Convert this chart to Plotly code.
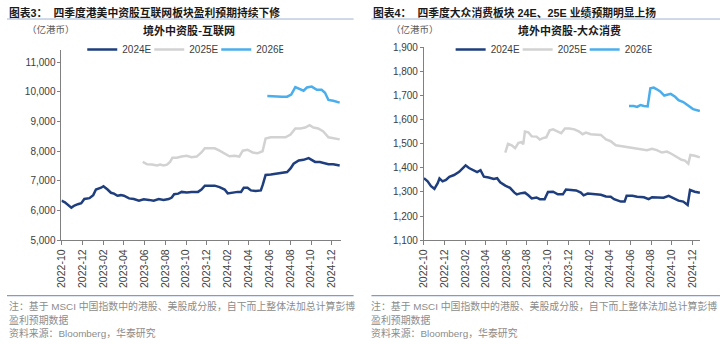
import plotly.graph_objects as go

W, H = 720, 344

# ---------------- data: left chart (互联网) ----------------
L24_dates = ["2022-10-01","2022-10-11","2022-10-30","2022-11-08","2022-11-18","2022-11-28","2022-12-07","2022-12-22",
             "2023-01-02","2023-01-10","2023-01-25","2023-02-01","2023-02-13","2023-02-23","2023-03-04","2023-03-14",
             "2023-03-24","2023-04-02","2023-04-17","2023-05-01","2023-05-16","2023-05-30","2023-06-14","2023-06-28",
             "2023-07-13","2023-07-27","2023-08-11","2023-08-20","2023-08-27","2023-09-08","2023-09-18","2023-10-03",
             "2023-10-17","2023-11-05","2023-11-15","2023-11-25","2023-12-09","2023-12-24","2024-01-07","2024-01-22",
             "2024-01-31","2024-02-15","2024-02-29","2024-03-10","2024-03-18","2024-03-29","2024-04-08","2024-04-22",
             "2024-05-07","2024-05-13","2024-05-21","2024-06-05","2024-06-24","2024-07-08","2024-07-23","2024-08-02",
             "2024-08-11","2024-08-26","2024-09-09","2024-09-24","2024-10-03","2024-10-13","2024-10-27","2024-11-11",
             "2024-11-21","2024-12-05","2024-12-15","2024-12-24"]
L24_vals = [6334,6280,6100,6170,6215,6250,6390,6420,6520,6710,6770,6820,6710,6600,6570,6500,
            6520,6500,6410,6390,6330,6380,6360,6330,6390,6360,6390,6440,6550,6570,6630,6610,
            6630,6630,6710,6840,6840,6840,6790,6710,6580,6610,6630,6630,6770,6770,6680,6660,
            6680,6880,7200,7220,7260,7280,7300,7420,7580,7690,7710,7770,7710,7640,7640,7600,
            7560,7560,7550,7520]

L25_dates = ["2023-05-27","2023-06-09","2023-06-23","2023-07-08","2023-07-17","2023-07-27","2023-08-06","2023-08-15",
             "2023-08-22","2023-09-04","2023-09-18","2023-10-03","2023-10-17","2023-11-01","2023-11-15","2023-11-25",
             "2023-12-09","2023-12-24","2024-01-07","2024-01-22","2024-02-05","2024-02-20","2024-03-05","2024-03-15",
             "2024-03-29","2024-04-13","2024-04-27","2024-05-12","2024-05-21","2024-06-05","2024-06-19","2024-07-04",
             "2024-07-18","2024-08-02","2024-08-16","2024-08-31","2024-09-14","2024-09-27","2024-10-08","2024-10-22",
             "2024-11-06","2024-11-21","2024-12-05","2024-12-24"]
L25_vals = [7640,7560,7550,7520,7550,7520,7550,7640,7780,7780,7820,7850,7800,7820,7960,8100,
            8100,8100,8020,7910,7830,7850,7820,8020,8050,7960,7930,8000,8430,8470,8470,8450,
            8470,8560,8770,8770,8800,8880,8800,8770,8670,8470,8450,8400]

L26_dates = ["2024-05-26","2024-06-10","2024-06-24","2024-07-08","2024-07-23","2024-08-04","2024-08-16","2024-08-31",
             "2024-09-09","2024-09-19","2024-10-03","2024-10-18","2024-11-01","2024-11-11","2024-11-21","2024-12-05",
             "2024-12-24"]
L26_vals = [9860,9850,9830,9840,9840,9910,10160,10070,10040,10150,10180,10070,10070,9970,9730,9700,9640]

# ---------------- data: right chart (大众消费) ----------------
R24_dates = ["2022-10-01","2022-10-12","2022-10-22","2022-11-01","2022-11-11","2022-11-16","2022-11-25","2022-12-05",
             "2022-12-15","2022-12-29","2023-01-13","2023-01-23","2023-02-01","2023-02-11","2023-02-26","2023-03-07",
             "2023-03-17","2023-03-27","2023-04-10","2023-04-25","2023-05-05","2023-05-14","2023-05-29","2023-06-12",
             "2023-06-25","2023-07-02","2023-07-12","2023-07-26","2023-08-05","2023-08-15","2023-08-29","2023-09-08",
             "2023-09-22","2023-10-02","2023-10-17","2023-10-31","2023-11-15","2023-11-24","2023-12-09","2023-12-24",
             "2024-01-07","2024-01-15","2024-01-27","2024-02-16","2024-03-06","2024-03-21","2024-04-04","2024-04-14",
             "2024-05-04","2024-05-15","2024-05-21","2024-06-07","2024-06-21","2024-07-11","2024-07-25","2024-08-04",
             "2024-08-18","2024-08-28","2024-09-07","2024-09-22","2024-10-06","2024-10-21","2024-11-04","2024-11-17",
             "2024-11-24","2024-12-08","2024-12-23"]
R24_vals = [1357,1344,1324,1313,1337,1356,1344,1350,1363,1370,1383,1399,1410,1399,1390,1382,
            1390,1363,1360,1354,1357,1340,1326,1317,1297,1290,1294,1297,1286,1273,1277,1270,
            1270,1300,1301,1290,1290,1310,1308,1306,1297,1286,1293,1290,1288,1281,1280,1270,
            1260,1260,1284,1284,1280,1278,1270,1278,1277,1278,1276,1284,1273,1264,1260,1246,
            1308,1301,1297]

R25_dates = ["2023-05-29","2023-06-06","2023-06-17","2023-06-27","2023-07-07","2023-07-16","2023-07-21","2023-07-26",
             "2023-08-05","2023-08-15","2023-08-29","2023-09-08","2023-09-17","2023-09-27","2023-10-07","2023-10-17",
             "2023-10-31","2023-11-10","2023-11-21","2023-12-04","2023-12-19","2024-01-02","2024-01-12","2024-01-22",
             "2024-02-05","2024-02-20","2024-03-06","2024-03-21","2024-04-04","2024-04-19","2024-05-04","2024-05-23",
             "2024-06-11","2024-07-01","2024-07-20","2024-08-04","2024-08-18","2024-09-02","2024-09-17","2024-10-01",
             "2024-10-16","2024-10-30","2024-11-09","2024-11-19","2024-11-25","2024-12-08","2024-12-23"]
R25_vals = [1463,1499,1493,1481,1503,1506,1497,1550,1547,1530,1529,1517,1523,1526,1555,1559,
            1550,1543,1563,1563,1559,1550,1539,1546,1539,1539,1536,1517,1510,1493,1490,1486,
            1483,1479,1473,1479,1473,1463,1467,1457,1443,1433,1430,1417,1453,1450,1443]

R26_dates = ["2024-05-28","2024-06-11","2024-06-21","2024-07-01","2024-07-11","2024-07-22","2024-07-30","2024-08-09",
             "2024-08-18","2024-08-28","2024-09-09","2024-09-19","2024-09-28","2024-10-11","2024-10-21","2024-11-04",
             "2024-11-19","2024-12-03","2024-12-23"]
R26_vals = [1656,1656,1652,1660,1656,1654,1729,1732,1725,1716,1699,1703,1706,1694,1680,1672,1656,1643,1635]

series_names = ["2024E", "2025E", "2026E"]
colors = ["#1E3E7D", "#D2D2D2", "#4BAEEC"]

L_yticks = [5000, 6000, 7000, 8000, 9000, 10000, 11000]
R_yticks = [1100, 1200, 1300, 1400, 1500, 1600, 1700, 1800, 1900]

titles = ["图表3：  四季度港美中资股互联网板块盈利预期持续下修",
          "图表4：  四季度大众消费板块 24E、25E 业绩预期明显上扬"]
subtitles = ["境外中资股-互联网", "境外中资股-大众消费"]
unit = "（亿港币）"
note1 = "注：基于 MSCI 中国指数中的港股、美股成分股，自下而上整体法加总计算彭博"
note2 = "盈利预期数据"
source = "资料来源：Bloomberg，华泰研究"

FONT = "Liberation Sans, Arial, Noto Sans CJK SC"
CJK = "Noto Sans CJK SC, Liberation Sans"

def px(x):
    return x / W

def py(y):
    return 1 - y / H

fig = go.Figure()

left = [(L24_dates, L24_vals), (L25_dates, L25_vals), (L26_dates, L26_vals)]
right = [(R24_dates, R24_vals), (R25_dates, R25_vals), (R26_dates, R26_vals)]

for i, (d, v) in enumerate(left):
    fig.add_trace(go.Scatter(x=d, y=v, mode="lines", name=series_names[i],
                             line=dict(color=colors[i], width=2.5),
                             xaxis="x", yaxis="y", legend="legend"))
for i, (d, v) in enumerate(right):
    fig.add_trace(go.Scatter(x=d, y=v, mode="lines", name=series_names[i],
                             line=dict(color=colors[i], width=2.5),
                             xaxis="x2", yaxis="y2", legend="legend2"))

xcommon = dict(type="date", dtick="M2", tick0="2022-10-01", tickformat="%Y-%m",
               tickangle=-90, ticks="outside", ticklen=4, tickcolor="#808080",
               showline=True, linecolor="#808080", linewidth=1, showgrid=False,
               zeroline=False, tickfont=dict(family=FONT, size=10.5, color="#404040"))
ycommon = dict(ticks="outside", ticklen=3, tickcolor="#808080", showline=True,
               linecolor="#808080", linewidth=1, showgrid=False, zeroline=False,
               tickformat=",d", tickfont=dict(family=FONT, size=10, color="#404040"))

legend_common = dict(orientation="h", xanchor="left", yanchor="middle",
                     font=dict(family=FONT, size=10, color="#404040"), bgcolor="rgba(0,0,0,0)",
                     itemwidth=30, tracegroupgap=0, entrywidth=22, entrywidthmode="pixels")

fig.update_layout(
    width=W, height=H, margin=dict(l=0, r=0, t=0, b=0),
    paper_bgcolor="white", plot_bgcolor="white",
    showlegend=True,
    xaxis=dict(domain=[px(55), px(337)], range=["2022-10-01", "2024-12-27"], anchor="y", **xcommon),
    yaxis=dict(domain=[py(242.7), py(46)], range=[5000, 11400], tickvals=L_yticks, anchor="x", **ycommon),
    xaxis2=dict(domain=[px(421), px(700)], range=["2022-10-01", "2024-12-24"], anchor="y2", **xcommon),
    yaxis2=dict(domain=[py(242.7), py(42.5)], range=[1100, 1900], tickvals=R_yticks, anchor="x2", **ycommon),
    legend=dict(x=px(76), y=py(45), **legend_common),
    legend2=dict(x=px(448), y=py(45), **legend_common),
)

annotations = []
# chart titles
for x0, t in [(0, titles[0]), (368, titles[1])]:
    annotations.append(dict(text="<b>" + t + "</b>", x=px(x0), y=py(6.5), xref="paper", yref="paper",
                            xanchor="left", yanchor="middle", align="left", showarrow=False,
                            font=dict(family=FONT, size=10.8, color="#1a1a1a")))
# subtitles
for xc, t in [(184, subtitles[0]), (568, subtitles[1])]:
    annotations.append(dict(text="<b>" + t + "</b>", x=px(xc), y=py(25), xref="paper", yref="paper",
                            xanchor="center", yanchor="middle", showarrow=False,
                            font=dict(family=CJK, size=11, color="#1a1a1a")))
# units
for x0 in [18, 386]:
    annotations.append(dict(text=unit, x=px(x0), y=py(24), xref="paper", yref="paper",
                            xanchor="left", yanchor="middle", align="left", showarrow=False,
                            font=dict(family=CJK, size=9.5, color="#595959")))
# footnotes
for x0 in [0, 366]:
    for yy, t in [(311, note1), (325.5, note2), (338.5, source)]:
        annotations.append(dict(text=t, x=px(x0), y=py(yy), xref="paper", yref="paper",
                                xanchor="left", yanchor="middle", align="left", showarrow=False,
                                font=dict(family=FONT, size=9.9, color="#8c8c8c")))
fig.update_layout(annotations=annotations)

shapes = []
for x0, x1 in [(0, 350), (368, 720)]:
    shapes.append(dict(type="line", xref="paper", yref="paper", x0=px(x0), x1=px(x1),
                       y0=py(13.5), y1=py(13.5), line=dict(color="#9fb3cf", width=1)))
    shapes.append(dict(type="line", xref="paper", yref="paper", x0=px(x0), x1=px(x1),
                       y0=py(300), y1=py(300), line=dict(color="#7f9cc6", width=1.2)))
fig.update_layout(shapes=shapes)

fig.write_html("out.html")
